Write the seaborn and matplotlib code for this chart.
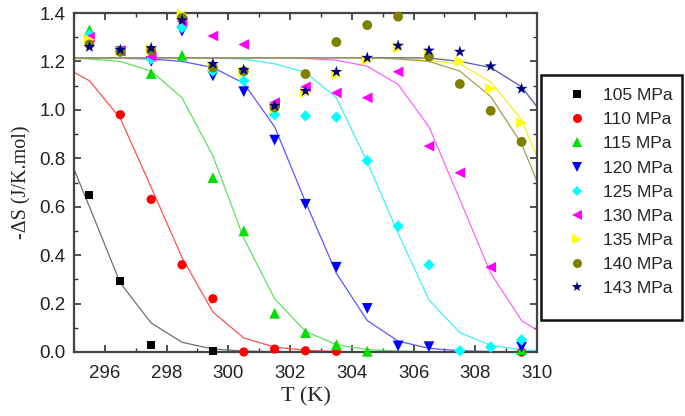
import numpy as np
import pandas as pd
import matplotlib
matplotlib.use("Agg")
import matplotlib.pyplot as plt
import seaborn as sns
from matplotlib.lines import Line2D
from matplotlib.patches import Rectangle
from matplotlib.ticker import MultipleLocator, FormatStrFormatter

# ---------------- data ----------------
series = ["105 MPa", "110 MPa", "115 MPa", "120 MPa", "125 MPa",
          "130 MPa", "135 MPa", "140 MPa", "143 MPa"]

T_pts = [295.5, 296.5, 297.5, 298.5, 299.5, 300.5, 301.5, 302.5,
         303.5, 304.5, 305.5, 306.5, 307.5, 308.5, 309.5]
nan = np.nan
pts_105 = [0.65, 0.295, 0.03, nan, 0.005, nan, nan, nan, nan, nan, nan, nan, nan, nan, nan]
pts_110 = [nan, 0.98, 0.63, 0.36, 0.22, 0.0, 0.012, 0.005, 0.003, nan, nan, nan, nan, nan, 0.0]
pts_115 = [1.33, 1.245, 1.15, 1.225, 0.72, 0.50, 0.16, 0.08, 0.03, 0.003, nan, nan, nan, nan, 0.01]
pts_120 = [1.28, 1.24, 1.20, 1.325, 1.14, 1.075, 0.875, 0.61, 0.35, 0.18, 0.025, 0.022, nan, nan, 0.02]
pts_125 = [1.31, 1.24, 1.21, 1.34, 1.16, 1.12, 0.98, 0.975, 0.97, 0.79, 0.52, 0.36, 0.005, 0.02, 0.05]
pts_130 = [1.30, 1.245, 1.22, 1.365, 1.305, 1.27, 1.03, 1.095, 1.07, 1.05, 1.157, 0.85, 0.74, 0.35, nan]
pts_135 = [1.29, 1.24, 1.25, 1.395, 1.18, 1.155, 1.005, 1.07, 1.145, 1.205, 1.255, 1.23, 1.20, 1.087, 0.946]
pts_140 = [1.27, 1.24, 1.245, 1.38, 1.175, 1.16, 1.01, 1.148, 1.28, 1.35, 1.385, 1.22, 1.107, 0.996, 0.868]
pts_143 = [1.26, 1.248, 1.255, 1.37, 1.19, 1.165, 1.017, 1.078, 1.157, 1.215, 1.265, 1.245, 1.24, 1.18, 1.087]

T_fit = [294.5, 295.5, 296.5, 297.5, 298.5, 299.5, 300.5, 301.5, 302.5,
         303.5, 304.5, 305.5, 306.5, 307.5, 308.5, 309.5, 310.5]
fit_105 = [0.91, 0.60, 0.285, 0.12, 0.04, 0.012, 0.004, 0.001, 0, 0, 0, 0, 0, 0, 0, 0, 0]
fit_110 = [1.19, 1.12, 0.965, 0.68, 0.39, 0.165, 0.058, 0.02, 0.007, 0.002, 0, 0, 0, 0, 0, 0, 0]
fit_115 = [1.215, 1.21, 1.20, 1.16, 1.05, 0.81, 0.47, 0.22, 0.085, 0.03, 0.01, 0.004, 0.001, 0, 0, 0, 0]
fit_120 = [1.215, 1.215, 1.213, 1.21, 1.20, 1.175, 1.11, 0.93, 0.62, 0.325, 0.13, 0.045, 0.015, 0.005, 0.002, 0, 0]
fit_125 = [1.215, 1.215, 1.215, 1.215, 1.215, 1.213, 1.21, 1.19, 1.155, 1.05, 0.785, 0.49, 0.215, 0.08, 0.027, 0.009, 0.003]
fit_130 = [1.215, 1.215, 1.215, 1.215, 1.215, 1.215, 1.215, 1.215, 1.212, 1.205, 1.18, 1.105, 0.93, 0.63, 0.325, 0.13, 0.05]
fit_135 = [1.215, 1.215, 1.215, 1.215, 1.215, 1.215, 1.215, 1.215, 1.215, 1.215, 1.215, 1.212, 1.205, 1.19, 1.115, 0.96, 0.65]
fit_140 = [1.215, 1.215, 1.215, 1.215, 1.215, 1.215, 1.215, 1.215, 1.215, 1.215, 1.215, 1.21, 1.20, 1.16, 1.055, 0.86, 0.55]
fit_143 = [1.215, 1.215, 1.215, 1.215, 1.215, 1.215, 1.215, 1.215, 1.215, 1.215, 1.215, 1.215, 1.214, 1.2, 1.175, 1.095, 0.93]

x_ticks = [296, 298, 300, 302, 304, 306, 308, 310]

# ---------------- styles ----------------
pts_all = [pts_105, pts_110, pts_115, pts_120, pts_125, pts_130, pts_135, pts_140, pts_143]
fit_all = [fit_105, fit_110, fit_115, fit_120, fit_125, fit_130, fit_135, fit_140, fit_143]
mk_colors = ["#000000", "#ff0000", "#00e000", "#0000ff", "#00ffff",
             "#ff00ff", "#ffff00", "#808000", "#000080"]
ln_colors = ["#707070", "#ff5050", "#60e060", "#5858ff", "#40f0f0",
             "#ff60ff", "#f0f020", "#a0a050", "#5858b0"]
mk_shapes = ["s", "o", "^", "v", "D", "<", ">", "o", "*"]
mk_sizes = [34, 44, 60, 60, 34, 60, 60, 50, 80]

df_pts = pd.concat([pd.DataFrame({"T": T_pts, "dS": v, "series": s})
                    for s, v in zip(series, pts_all)]).dropna()
df_fit = pd.concat([pd.DataFrame({"T": T_fit, "dS": v, "series": s})
                    for s, v in zip(series, fit_all)])

pal_mk = dict(zip(series, mk_colors))
pal_ln = dict(zip(series, ln_colors))
mk_map = dict(zip(series, mk_shapes))
sz_map = dict(zip(series, mk_sizes))

# ---------------- plot ----------------
sns.set_theme(style="ticks")
plt.rcParams["font.family"] = ["Liberation Sans", "DejaVu Sans"]

fig = plt.figure(figsize=(6.85, 4.16), dpi=100)
ax = fig.add_axes([74 / 685, 1 - 352 / 416, (537 - 74) / 685, (352 - 13) / 416])

line_order = series[:7] + [series[8], series[7]]
sns.lineplot(data=df_fit, x="T", y="dS", hue="series", hue_order=line_order,
             palette=pal_ln, sort=False, estimator=None, linewidth=0.9,
             legend=False, ax=ax)

sns.scatterplot(data=df_pts, x="T", y="dS", hue="series", hue_order=series,
                style="series", style_order=series, markers=mk_map,
                size="series", sizes=sz_map, palette=pal_mk,
                linewidth=0, legend=False, ax=ax, zorder=3)
for coll in ax.collections:
    coll.set_clip_on(False)

ax.set_xlim(295, 310)
ax.set_ylim(0, 1.4)
ax.set_xticks(x_ticks)
ax.xaxis.set_minor_locator(MultipleLocator(1))
ax.yaxis.set_major_locator(MultipleLocator(0.2))
ax.yaxis.set_minor_locator(MultipleLocator(0.1))
ax.yaxis.set_major_formatter(FormatStrFormatter("%.1f"))
ax.tick_params(which="both", direction="in", top=True, right=True,
               colors="#333333", labelcolor="#222222")
ax.tick_params(which="major", length=5, width=1.2, labelsize=13.5)
ax.tick_params(axis="x", which="major", pad=9)
ax.tick_params(axis="y", which="major", pad=6)
ax.tick_params(which="minor", length=3, width=1.0)
for sp in ax.spines.values():
    sp.set_color("#444444")
    sp.set_linewidth(1.6)

ax.set_xlabel("T (K)", fontsize=16, family=["Liberation Serif", "DejaVu Serif"], labelpad=4)
ax.set_ylabel("-ΔS (J/K.mol)", fontsize=14.5, family=["Liberation Serif", "DejaVu Serif"], labelpad=6)

handles = [Line2D([], [], linestyle="None", marker=m, color=c, markersize=ms,
                  markeredgewidth=0)
           for m, c, ms in zip(mk_shapes, mk_colors, [6, 6.5, 7, 7, 5.5, 7, 7, 6.5, 8])]
fig.legend(handles, series, loc="upper left",
           bbox_to_anchor=(553 / 685, 1 - 74 / 416),
           frameon=False, fontsize=12.5, labelspacing=0.52,
           handlelength=1.2, handletextpad=0.9, borderpad=0.3)

fig.patches.append(Rectangle((541 / 685, 1 - 320 / 416), (682 - 541) / 685, (320 - 75) / 416,
                             transform=fig.transFigure, fill=False,
                             edgecolor="#111111", linewidth=1.8))

fig.savefig("out.png", dpi=100)
